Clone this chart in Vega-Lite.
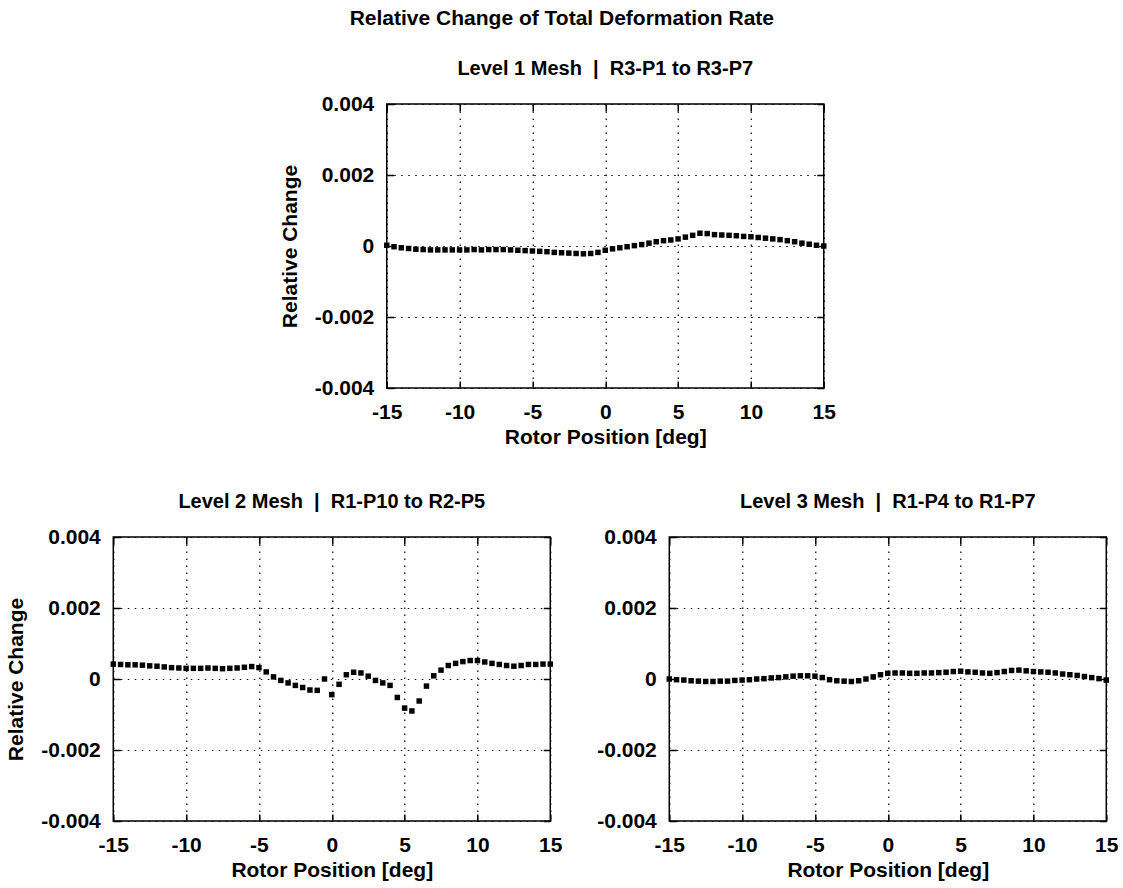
{
  "$schema": "https://vega.github.io/schema/vega-lite/v6.json",
  "padding": {"left": 4, "top": 8, "right": 2, "bottom": 5},
  "title": {"text": "Relative Change of Total Deformation Rate", "fontSize": 21, "fontWeight": "bold", "font": "Liberation Sans", "color": "black", "anchor": "middle", "offset": 29},
  "config": {
    "font": "Liberation Sans",
    "view": {"stroke": "black", "strokeWidth": 1.5},
    "title": {"font": "Liberation Sans", "fontSize": 20, "fontWeight": "bold", "color": "black", "offset": 14},
    "axis": {
      "labelFont": "Liberation Sans", "labelFontSize": 21, "labelFontWeight": "bold", "labelColor": "black", "labelFlush": false,
      "titleFont": "Liberation Sans", "titleFontSize": 21, "titleFontWeight": "bold", "titleColor": "black",
      "domain": false, "tickColor": "black", "tickWidth": 1.5, "tickSize": -7,
      "gridColor": "black", "gridDash": [1.5, 5.5], "gridWidth": 1.2, "gridOpacity": 1,
      "labelExpr": "replace(datum.label, '\u2212', '-')"
    }
  },
  "datasets": {
    "d": [
      {"panel": "L1", "pos": -15, "change": 0.00002}, {"panel": "L1", "pos": -14.5, "change": -0.00002}, {"panel": "L1", "pos": -14, "change": -0.00005}, {"panel": "L1", "pos": -13.5, "change": -0.00007}, {"panel": "L1", "pos": -13, "change": -0.00009}, {"panel": "L1", "pos": -12.5, "change": -0.0001}, {"panel": "L1", "pos": -12, "change": -0.00011}, {"panel": "L1", "pos": -11.5, "change": -0.00011}, {"panel": "L1", "pos": -11, "change": -0.00011}, {"panel": "L1", "pos": -10.5, "change": -0.00011}, {"panel": "L1", "pos": -10, "change": -0.00011}, {"panel": "L1", "pos": -9.5, "change": -0.00011}, {"panel": "L1", "pos": -9, "change": -0.0001}, {"panel": "L1", "pos": -8.5, "change": -0.00011}, {"panel": "L1", "pos": -8, "change": -0.0001}, {"panel": "L1", "pos": -7.5, "change": -0.0001}, {"panel": "L1", "pos": -7, "change": -0.0001}, {"panel": "L1", "pos": -6.5, "change": -0.00011}, {"panel": "L1", "pos": -6, "change": -0.00012}, {"panel": "L1", "pos": -5.5, "change": -0.00013}, {"panel": "L1", "pos": -5, "change": -0.00014}, {"panel": "L1", "pos": -4.5, "change": -0.00015}, {"panel": "L1", "pos": -4, "change": -0.00016}, {"panel": "L1", "pos": -3.5, "change": -0.00018}, {"panel": "L1", "pos": -3, "change": -0.00019}, {"panel": "L1", "pos": -2.5, "change": -0.0002}, {"panel": "L1", "pos": -2, "change": -0.00021}, {"panel": "L1", "pos": -1.5, "change": -0.00022}, {"panel": "L1", "pos": -1, "change": -0.00021}, {"panel": "L1", "pos": -0.5, "change": -0.00018}, {"panel": "L1", "pos": 0, "change": -0.00012}, {"panel": "L1", "pos": 0.5, "change": -0.00008}, {"panel": "L1", "pos": 1, "change": -0.00005}, {"panel": "L1", "pos": 1.5, "change": -0.00002}, {"panel": "L1", "pos": 2, "change": 0.00001}, {"panel": "L1", "pos": 2.5, "change": 0.00004}, {"panel": "L1", "pos": 3, "change": 0.00008}, {"panel": "L1", "pos": 3.5, "change": 0.00012}, {"panel": "L1", "pos": 4, "change": 0.00015}, {"panel": "L1", "pos": 4.5, "change": 0.00017}, {"panel": "L1", "pos": 5, "change": 0.0002}, {"panel": "L1", "pos": 5.5, "change": 0.00025}, {"panel": "L1", "pos": 6, "change": 0.0003}, {"panel": "L1", "pos": 6.5, "change": 0.00036}, {"panel": "L1", "pos": 7, "change": 0.00035}, {"panel": "L1", "pos": 7.5, "change": 0.00032}, {"panel": "L1", "pos": 8, "change": 0.00031}, {"panel": "L1", "pos": 8.5, "change": 0.0003}, {"panel": "L1", "pos": 9, "change": 0.00029}, {"panel": "L1", "pos": 9.5, "change": 0.00027}, {"panel": "L1", "pos": 10, "change": 0.00026}, {"panel": "L1", "pos": 10.5, "change": 0.00024}, {"panel": "L1", "pos": 11, "change": 0.00022}, {"panel": "L1", "pos": 11.5, "change": 0.0002}, {"panel": "L1", "pos": 12, "change": 0.00018}, {"panel": "L1", "pos": 12.5, "change": 0.00015}, {"panel": "L1", "pos": 13, "change": 0.00012}, {"panel": "L1", "pos": 13.5, "change": 0.00008}, {"panel": "L1", "pos": 14, "change": 0.00005}, {"panel": "L1", "pos": 14.5, "change": 0.00002}, {"panel": "L1", "pos": 15, "change": 0.0},
      {"panel": "L2", "pos": -15, "change": 0.00042}, {"panel": "L2", "pos": -14.5, "change": 0.00041}, {"panel": "L2", "pos": -14, "change": 0.0004}, {"panel": "L2", "pos": -13.5, "change": 0.0004}, {"panel": "L2", "pos": -13, "change": 0.00039}, {"panel": "L2", "pos": -12.5, "change": 0.00037}, {"panel": "L2", "pos": -12, "change": 0.00036}, {"panel": "L2", "pos": -11.5, "change": 0.00034}, {"panel": "L2", "pos": -11, "change": 0.00032}, {"panel": "L2", "pos": -10.5, "change": 0.00031}, {"panel": "L2", "pos": -10, "change": 0.0003}, {"panel": "L2", "pos": -9.5, "change": 0.0003}, {"panel": "L2", "pos": -9, "change": 0.0003}, {"panel": "L2", "pos": -8.5, "change": 0.00031}, {"panel": "L2", "pos": -8, "change": 0.0003}, {"panel": "L2", "pos": -7.5, "change": 0.00029}, {"panel": "L2", "pos": -7, "change": 0.0003}, {"panel": "L2", "pos": -6.5, "change": 0.00031}, {"panel": "L2", "pos": -6, "change": 0.00033}, {"panel": "L2", "pos": -5.5, "change": 0.00035}, {"panel": "L2", "pos": -5, "change": 0.00032}, {"panel": "L2", "pos": -4.5, "change": 0.0002}, {"panel": "L2", "pos": -4, "change": 0.00006}, {"panel": "L2", "pos": -3.5, "change": -0.00004}, {"panel": "L2", "pos": -3, "change": -0.00011}, {"panel": "L2", "pos": -2.5, "change": -0.00018}, {"panel": "L2", "pos": -2, "change": -0.00024}, {"panel": "L2", "pos": -1.5, "change": -0.00031}, {"panel": "L2", "pos": -1, "change": -0.00032}, {"panel": "L2", "pos": -0.5, "change": 0.0}, {"panel": "L2", "pos": 0, "change": -0.00044}, {"panel": "L2", "pos": 0.5, "change": -0.00015}, {"panel": "L2", "pos": 1, "change": 0.00012}, {"panel": "L2", "pos": 1.5, "change": 0.00019}, {"panel": "L2", "pos": 2, "change": 0.00017}, {"panel": "L2", "pos": 2.5, "change": 0.00008}, {"panel": "L2", "pos": 3, "change": -0.00004}, {"panel": "L2", "pos": 3.5, "change": -0.00011}, {"panel": "L2", "pos": 4, "change": -0.00018}, {"panel": "L2", "pos": 4.5, "change": -0.00052}, {"panel": "L2", "pos": 5, "change": -0.00082}, {"panel": "L2", "pos": 5.5, "change": -0.0009}, {"panel": "L2", "pos": 6, "change": -0.00062}, {"panel": "L2", "pos": 6.5, "change": -0.0002}, {"panel": "L2", "pos": 7, "change": 0.00009}, {"panel": "L2", "pos": 7.5, "change": 0.00025}, {"panel": "L2", "pos": 8, "change": 0.00038}, {"panel": "L2", "pos": 8.5, "change": 0.00044}, {"panel": "L2", "pos": 9, "change": 0.00049}, {"panel": "L2", "pos": 9.5, "change": 0.00052}, {"panel": "L2", "pos": 10, "change": 0.00052}, {"panel": "L2", "pos": 10.5, "change": 0.00048}, {"panel": "L2", "pos": 11, "change": 0.00044}, {"panel": "L2", "pos": 11.5, "change": 0.00041}, {"panel": "L2", "pos": 12, "change": 0.00038}, {"panel": "L2", "pos": 12.5, "change": 0.00036}, {"panel": "L2", "pos": 13, "change": 0.00038}, {"panel": "L2", "pos": 13.5, "change": 0.00041}, {"panel": "L2", "pos": 14, "change": 0.00041}, {"panel": "L2", "pos": 14.5, "change": 0.00042}, {"panel": "L2", "pos": 15, "change": 0.00042},
      {"panel": "L3", "pos": -15, "change": 0.0}, {"panel": "L3", "pos": -14.5, "change": -0.00002}, {"panel": "L3", "pos": -14, "change": -0.00003}, {"panel": "L3", "pos": -13.5, "change": -0.00005}, {"panel": "L3", "pos": -13, "change": -0.00006}, {"panel": "L3", "pos": -12.5, "change": -0.00007}, {"panel": "L3", "pos": -12, "change": -0.00007}, {"panel": "L3", "pos": -11.5, "change": -0.00006}, {"panel": "L3", "pos": -11, "change": -0.00006}, {"panel": "L3", "pos": -10.5, "change": -0.00004}, {"panel": "L3", "pos": -10, "change": -0.00003}, {"panel": "L3", "pos": -9.5, "change": -0.00002}, {"panel": "L3", "pos": -9, "change": 0.0}, {"panel": "L3", "pos": -8.5, "change": 0.00001}, {"panel": "L3", "pos": -8, "change": 0.00003}, {"panel": "L3", "pos": -7.5, "change": 0.00004}, {"panel": "L3", "pos": -7, "change": 0.00006}, {"panel": "L3", "pos": -6.5, "change": 0.00008}, {"panel": "L3", "pos": -6, "change": 0.00009}, {"panel": "L3", "pos": -5.5, "change": 0.00009}, {"panel": "L3", "pos": -5, "change": 0.00008}, {"panel": "L3", "pos": -4.5, "change": 0.00004}, {"panel": "L3", "pos": -4, "change": -0.00002}, {"panel": "L3", "pos": -3.5, "change": -0.00005}, {"panel": "L3", "pos": -3, "change": -0.00006}, {"panel": "L3", "pos": -2.5, "change": -0.00007}, {"panel": "L3", "pos": -2, "change": -0.00005}, {"panel": "L3", "pos": -1.5, "change": 0.0}, {"panel": "L3", "pos": -1, "change": 0.00006}, {"panel": "L3", "pos": -0.5, "change": 0.00012}, {"panel": "L3", "pos": 0, "change": 0.00016}, {"panel": "L3", "pos": 0.5, "change": 0.00017}, {"panel": "L3", "pos": 1, "change": 0.00017}, {"panel": "L3", "pos": 1.5, "change": 0.00016}, {"panel": "L3", "pos": 2, "change": 0.00016}, {"panel": "L3", "pos": 2.5, "change": 0.00017}, {"panel": "L3", "pos": 3, "change": 0.00017}, {"panel": "L3", "pos": 3.5, "change": 0.00018}, {"panel": "L3", "pos": 4, "change": 0.00019}, {"panel": "L3", "pos": 4.5, "change": 0.00021}, {"panel": "L3", "pos": 5, "change": 0.00022}, {"panel": "L3", "pos": 5.5, "change": 0.0002}, {"panel": "L3", "pos": 6, "change": 0.00019}, {"panel": "L3", "pos": 6.5, "change": 0.00017}, {"panel": "L3", "pos": 7, "change": 0.00016}, {"panel": "L3", "pos": 7.5, "change": 0.00018}, {"panel": "L3", "pos": 8, "change": 0.00021}, {"panel": "L3", "pos": 8.5, "change": 0.00024}, {"panel": "L3", "pos": 9, "change": 0.00025}, {"panel": "L3", "pos": 9.5, "change": 0.00023}, {"panel": "L3", "pos": 10, "change": 0.00021}, {"panel": "L3", "pos": 10.5, "change": 0.0002}, {"panel": "L3", "pos": 11, "change": 0.00019}, {"panel": "L3", "pos": 11.5, "change": 0.00017}, {"panel": "L3", "pos": 12, "change": 0.00014}, {"panel": "L3", "pos": 12.5, "change": 0.00012}, {"panel": "L3", "pos": 13, "change": 0.0001}, {"panel": "L3", "pos": 13.5, "change": 0.00007}, {"panel": "L3", "pos": 14, "change": 0.00004}, {"panel": "L3", "pos": 14.5, "change": 0.00001}, {"panel": "L3", "pos": 15, "change": -0.00003}
    ]
  },
  "spacing": 43,
  "center": true,
  "vconcat": [
    {
      "width": 437, "height": 284,
      "title": {"text": "Level 1 Mesh \u00a0|\u00a0 R3-P1 to R3-P7"},
      "data": {"name": "d"},
      "transform": [{"filter": "datum.panel === 'L1'"}],
      "layer": [
        {"mark": {"type": "point", "shape": "square", "filled": true, "size": 30, "color": "black", "opacity": 1},
         "encoding": {
           "x": {"field": "pos", "type": "quantitative", "scale": {"domain": [-15, 15], "nice": false, "zero": false}, "axis": {"orient": "bottom", "values": [-15, -10, -5, 0, 5, 10, 15], "title": "Rotor Position [deg]", "grid": true, "labelPadding": 20, "titlePadding": 4}},
           "y": {"field": "change", "type": "quantitative", "scale": {"domain": [-0.004, 0.004], "nice": false}, "axis": {"orient": "left", "values": [-0.004, -0.002, 0, 0.002, 0.004], "format": ".3~f", "title": "Relative Change", "grid": true, "labelPadding": 20, "titlePadding": 14}}
         }},
        {"mark": {"type": "point", "opacity": 0},
         "encoding": {
           "x": {"field": "pos", "type": "quantitative", "axis": {"orient": "top", "values": [-15, -10, -5, 0, 5, 10, 15], "labels": false, "grid": false, "title": null}},
           "y": {"field": "change", "type": "quantitative", "axis": {"orient": "right", "values": [-0.004, -0.002, 0, 0.002, 0.004], "labels": false, "grid": false, "title": "\u00a0", "titleFontSize": 2, "titlePadding": 18}}
         }}
      ],
      "resolve": {"axis": {"x": "independent", "y": "independent"}}
    },
    {
      "spacing": 32,
      "hconcat": [
        {
          "width": 437, "height": 284,
          "title": {"text": "Level 2 Mesh \u00a0|\u00a0 R1-P10 to R2-P5"},
          "data": {"name": "d"},
          "transform": [{"filter": "datum.panel === 'L2'"}],
          "layer": [
            {"mark": {"type": "point", "shape": "square", "filled": true, "size": 30, "color": "black", "opacity": 1},
             "encoding": {
               "x": {"field": "pos", "type": "quantitative", "scale": {"domain": [-15, 15], "nice": false, "zero": false}, "axis": {"orient": "bottom", "values": [-15, -10, -5, 0, 5, 10, 15], "title": "Rotor Position [deg]", "grid": true, "labelPadding": 20, "titlePadding": 4}},
               "y": {"field": "change", "type": "quantitative", "scale": {"domain": [-0.004, 0.004], "nice": false}, "axis": {"orient": "left", "values": [-0.004, -0.002, 0, 0.002, 0.004], "format": ".3~f", "title": "Relative Change", "grid": true, "labelPadding": 20, "titlePadding": 14}}
             }},
            {"mark": {"type": "point", "opacity": 0},
             "encoding": {
               "x": {"field": "pos", "type": "quantitative", "axis": {"orient": "top", "values": [-15, -10, -5, 0, 5, 10, 15], "labels": false, "grid": false, "title": null}},
               "y": {"field": "change", "type": "quantitative", "axis": {"orient": "right", "values": [-0.004, -0.002, 0, 0.002, 0.004], "labels": false, "grid": false, "title": null}}
             }}
          ],
          "resolve": {"axis": {"x": "independent", "y": "independent"}}
        },
        {
          "width": 437, "height": 284,
          "title": {"text": "Level 3 Mesh \u00a0|\u00a0 R1-P4 to R1-P7"},
          "data": {"name": "d"},
          "transform": [{"filter": "datum.panel === 'L3'"}],
          "layer": [
            {"mark": {"type": "point", "shape": "square", "filled": true, "size": 30, "color": "black", "opacity": 1},
             "encoding": {
               "x": {"field": "pos", "type": "quantitative", "scale": {"domain": [-15, 15], "nice": false, "zero": false}, "axis": {"orient": "bottom", "values": [-15, -10, -5, 0, 5, 10, 15], "title": "Rotor Position [deg]", "grid": true, "labelPadding": 20, "titlePadding": 4}},
               "y": {"field": "change", "type": "quantitative", "scale": {"domain": [-0.004, 0.004], "nice": false}, "axis": {"orient": "left", "values": [-0.004, -0.002, 0, 0.002, 0.004], "format": ".3~f", "title": null, "grid": true, "labelPadding": 20}}
             }},
            {"mark": {"type": "point", "opacity": 0},
             "encoding": {
               "x": {"field": "pos", "type": "quantitative", "axis": {"orient": "top", "values": [-15, -10, -5, 0, 5, 10, 15], "labels": false, "grid": false, "title": null}},
               "y": {"field": "change", "type": "quantitative", "axis": {"orient": "right", "values": [-0.004, -0.002, 0, 0.002, 0.004], "labels": false, "grid": false, "title": null}}
             }}
          ],
          "resolve": {"axis": {"x": "independent", "y": "independent"}}
        }
      ]
    }
  ]
}
